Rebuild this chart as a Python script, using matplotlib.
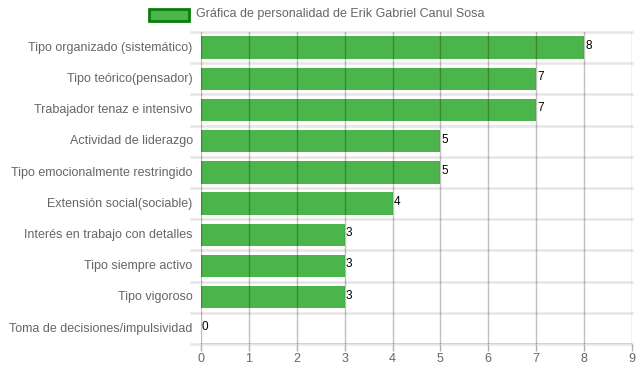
import matplotlib
matplotlib.use("Agg")
import matplotlib.pyplot as plt
from matplotlib.patches import Rectangle
import numpy as np

plt.rcParams['font.family'] = ['Liberation Sans', 'DejaVu Sans']

categories = [
    "Tipo organizado (sistemático)",
    "Tipo teórico(pensador)",
    "Trabajador tenaz e intensivo",
    "Actividad de liderazgo",
    "Tipo emocionalmente restringido",
    "Extensión social(sociable)",
    "Interés en trabajo con detalles",
    "Tipo siempre activo",
    "Tipo vigoroso",
    "Toma de decisiones/impulsividad",
]
values = [8, 7, 7, 5, 5, 4, 3, 3, 3, 0]
xticks = [0, 1, 2, 3, 4, 5, 6, 7, 8, 9]
legend_label = "Gráfica de personalidad de Erik Gabriel Canul Sosa"

W, H = 639, 372
fig = plt.figure(figsize=(W / 100, H / 100), dpi=100)
ax = fig.add_axes([201 / W, 1 - 344 / H, (632 - 201) / W, (344 - 32) / H])

n = len(categories)
y = np.arange(n)
bar_color = "#4bb54b"
ax.barh(y, values, height=0.72, color=bar_color, zorder=2)
ax.set_ylim(n - 0.5, -0.5)
ax.set_xlim(0, 9)

# value labels
for yi, v in zip(y, values):
    ax.text(v + 0.02, yi - 0.05, str(v), va="center", ha="left", fontsize=8.5,
            color="black", zorder=5)

# vertical gridlines (drawn over the bars)
for xt in xticks:
    ax.axvline(xt, color="black", alpha=0.25, lw=1, zorder=3)

# horizontal gridlines at category boundaries
for b in np.arange(-0.5, n, 1.0):
    ax.axhline(b, color="#e6e6e6", lw=1.8, zorder=1, clip_on=False)
    ax.plot([-10 / 47.9, 0], [b, b], color="#e6e6e6", lw=1.8, clip_on=False,
            zorder=1)
ax.axhline(n - 0.5, color="#d0d0d0", lw=1.2, zorder=1)

for s in ax.spines.values():
    s.set_visible(False)

ax.set_xticks(xticks)
ax.set_xticklabels([str(t) for t in xticks])
ax.set_yticks(y - 0.04)
ax.set_yticklabels(categories)
ax.tick_params(axis="x", length=5, width=1, color="#b0b0b0", labelsize=9,
               labelcolor="#666666", pad=1.5)
ax.tick_params(axis="y", length=0, labelsize=9, labelcolor="#666666", pad=6)

# legend
fig.patches.append(Rectangle((149 / W, 1 - 21 / H), 40 / W, 12 / H,
                             transform=fig.transFigure, facecolor=bar_color,
                             edgecolor="#0a7d0a", lw=2))
fig.text(196 / W, 1 - 14.5 / H, legend_label, ha="left", va="center",
         fontsize=9, color="#666666")

fig.savefig("out.png", dpi=100)
